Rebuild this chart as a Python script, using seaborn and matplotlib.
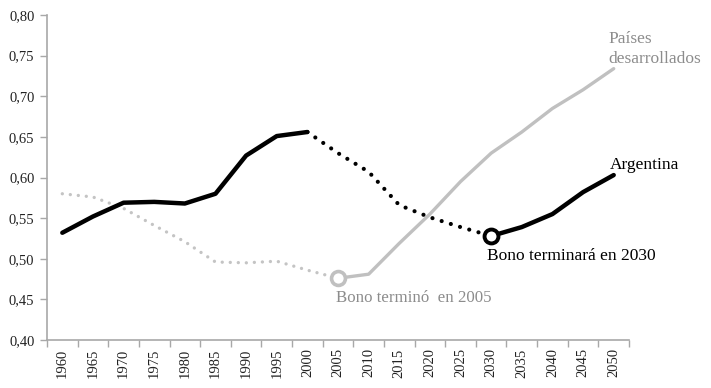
import numpy as np
import pandas as pd
import matplotlib
matplotlib.use("Agg")
import matplotlib.pyplot as plt
import seaborn as sns

years = [1960, 1965, 1970, 1975, 1980, 1985, 1990, 1995, 2000, 2005,
         2010, 2015, 2020, 2025, 2030, 2035, 2040, 2045, 2050]
argentina = [0.532, 0.552, 0.569, 0.570, 0.568, 0.580, 0.627, 0.651, 0.656, 0.630,
             0.607, 0.566, 0.551, 0.539, 0.528, 0.539, 0.555, 0.582, 0.603]
desarrollados = [0.580, 0.576, 0.562, 0.541, 0.521, 0.496, 0.495, 0.497, 0.486, 0.476,
                 0.481, 0.519, 0.555, 0.595, 0.630, 0.656, 0.685, 0.708, 0.734]
y_ticks = [0.40, 0.45, 0.50, 0.55, 0.60, 0.65, 0.70, 0.75, 0.80]
fin_bono_arg = 2030
fin_bono_des = 2005

df = pd.DataFrame({"year": years, "Argentina": argentina, "Desarrollados": desarrollados})

sns.set_style("ticks")
plt.rcParams["font.family"] = ["Liberation Serif", "DejaVu Serif"]

fig = plt.figure(figsize=(7.11, 3.88), dpi=100)
ax = fig.add_axes([0.0661, 0.1237, 0.8186, 0.8376])

dot_black = dict(linestyle=(0, (0.01, 2.3)), dash_capstyle="round")
dot_grey = dict(linestyle=(0, (0.01, 2.4)), dash_capstyle="round")

# Países desarrollados: punteado hasta 2005, sólido después
pre = df[df.year <= fin_bono_des]
post = df[df.year >= fin_bono_des]
sns.lineplot(data=pre, x="year", y="Desarrollados", ax=ax, color="#c4c4c4", lw=2.4, **dot_grey)
sns.lineplot(data=post, x="year", y="Desarrollados", ax=ax, color="#c0c0c0", lw=2.4)

# Argentina: sólido hasta 2000, punteado 2000-2030, sólido desde 2030
a1 = df[df.year <= 2000]
a2 = df[(df.year >= 2000) & (df.year <= fin_bono_arg)]
a3 = df[df.year >= fin_bono_arg]
sns.lineplot(data=a1, x="year", y="Argentina", ax=ax, color="black", lw=3.2, solid_capstyle="round")
sns.lineplot(data=a2, x="year", y="Argentina", ax=ax, color="black", lw=3.0, **dot_black)
sns.lineplot(data=a3, x="year", y="Argentina", ax=ax, color="black", lw=3.2, solid_capstyle="round")

# Marcadores de fin de bono
ax.plot([fin_bono_des], [desarrollados[years.index(fin_bono_des)]], "o", ms=10,
        mfc="white", mec="#c0c0c0", mew=2.6, zorder=5)
ax.plot([fin_bono_arg], [argentina[years.index(fin_bono_arg)]], "o", ms=10,
        mfc="white", mec="black", mew=2.8, zorder=5)

ax.text(2049.2, 0.758, "Países\ndesarrollados", color="#8c8c8c", fontsize=12.5,
        ha="left", va="center", linespacing=1.35)
ax.text(2049.4, 0.615, "Argentina", color="black", fontsize=12.5, ha="left", va="center")
ax.text(2029.3, 0.503, "Bono terminará en 2030", color="black", fontsize=12.5, ha="left", va="center")
ax.text(2004.6, 0.4515, "Bono terminó  en 2005", color="#8c8c8c", fontsize=12.2,
        ha="left", va="center")

ax.set_xlim(years[0] - 2.5, years[-1] + 2.5)
ax.set_ylim(y_ticks[0], y_ticks[-1])
ax.set_yticks(y_ticks)
ax.set_yticklabels([f"{v:.2f}".replace(".", ",") for v in y_ticks], fontsize=10.5, color="#222222")
ax.set_xticks(years)
ax.set_xticklabels([str(y) for y in years], rotation=90, fontsize=10.5, color="#222222")
ax.set_xticks(np.arange(years[0] - 2.5, years[-1] + 3, 5), minor=True)
ax.tick_params(axis="x", which="major", length=0, pad=6)
ax.tick_params(axis="x", which="minor", length=5, width=1, color="#a8a8a8")
ax.tick_params(axis="y", length=5, width=1, color="#a8a8a8", pad=4)
ax.set_xlabel("")
ax.set_ylabel("")

sns.despine(ax=ax)
for s in ("left", "bottom"):
    ax.spines[s].set_color("#a8a8a8")
    ax.spines[s].set_linewidth(1.2)

fig.savefig("out.png", dpi=100)
